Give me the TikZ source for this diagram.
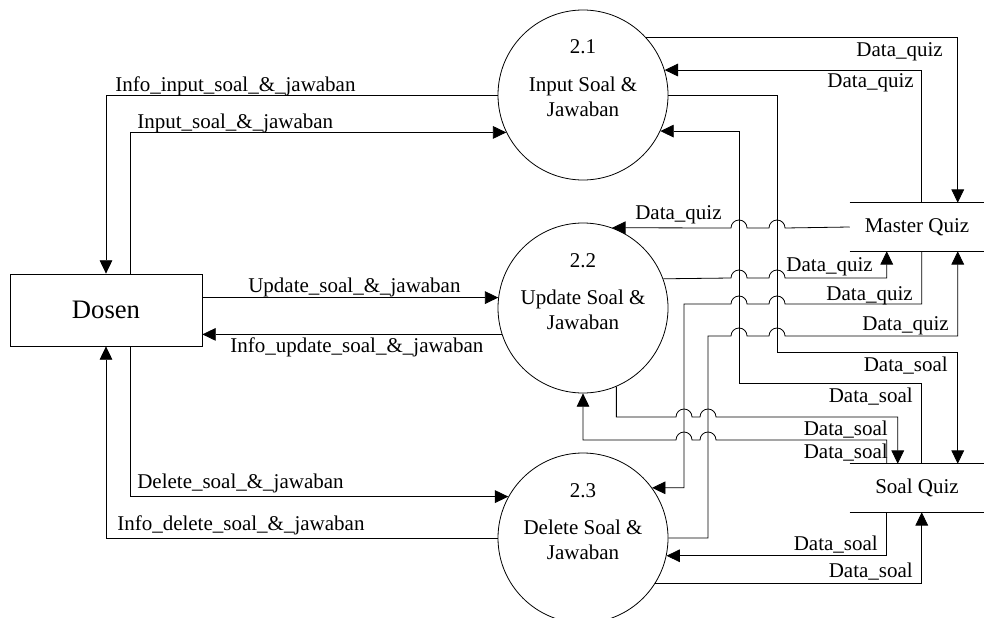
\documentclass[tikz,border=0pt]{standalone}
\usepackage{fontspec}
\setmainfont{Liberation Serif}
\usetikzlibrary{arrows.meta}
\newcommand{\lblfont}{\fontsize{15.75pt}{18.75pt}\selectfont}
\begin{document}
\begin{tikzpicture}[x=0.75pt,y=0.75pt,
  wire/.style={draw=black, line width=0.6pt},
  flow/.style={wire, -{Triangle[length=10pt,width=9.5pt]}},
  proc/.style={circle, draw=black, line width=0.6pt, minimum size=127.5pt, inner sep=0pt},
  ent/.style={rectangle, draw=black, line width=0.6pt, minimum width=144pt, minimum height=54pt, font=\fontsize{20pt}{24pt}\selectfont},
  store/.style={rectangle, minimum width=100.5pt, minimum height=36pt, inner sep=0pt, font=\lblfont},
  lbl/.style={inner sep=0pt, font=\lblfont},
]
\useasboundingbox (0,0) rectangle (984,-617);
\clip (0,0) rectangle (984,-617);

% external entity, processes and data stores
\node[ent] (dosen) at (106,-310) {Dosen};
\node[proc] (c21) at (583,-95) {};
\node[proc] (c22) at (583,-308) {};
\node[proc] (c23) at (583,-538) {};
\node[store] (mq) at (917,-227) {Master Quiz};
\node[store] (sq) at (917,-488) {Soal Quiz};
\draw[wire] (mq.north west) -- (mq.north east) (mq.south west) -- (mq.south east);
\draw[wire] (sq.north west) -- (sq.north east) (sq.south west) -- (sq.south east);

% process captions
\node[lbl, anchor=base] (n21) at ([yshift=30.75pt]c21.center) {2.1};
\node[lbl, anchor=base] (t21a) at ([yshift=3pt]c21.center) {Input Soal \&};
\node[lbl, anchor=base] (t21b) at ([yshift=-15.75pt]c21.center) {Jawaban};
\node[lbl, anchor=base] (n22) at ([yshift=30.75pt]c22.center) {2.2};
\node[lbl, anchor=base] (t22a) at ([yshift=3pt]c22.center) {Update Soal \&};
\node[lbl, anchor=base] (t22b) at ([yshift=-15.75pt]c22.center) {Jawaban};
\node[lbl, anchor=base] (n23) at ([yshift=30.75pt]c23.center) {2.3};
\node[lbl, anchor=base] (t23a) at ([yshift=3pt]c23.center) {Delete Soal \&};
\node[lbl, anchor=base] (t23b) at ([yshift=-15.75pt]c23.center) {Jawaban};

% flows between Dosen and the processes
\draw[flow] (c21.west) -| (dosen.north);
\draw[flow] ([xshift=18pt]dosen.north) |- (c21.206.6);
\draw[flow] (dosen.east |- c22.173.9) -- (c22.173.9);
\draw[flow] (c22.198.5) -- (dosen.east |- c22.198.5);
\draw[flow] ([xshift=18pt]dosen.south) |- (c23.151.2);
\draw[flow] (c23.west) -| (dosen.south);

\node[lbl, anchor=base west] (l1) at (115,-91) {Info\_input\_soal\_\&\_jawaban};
\node[lbl, anchor=base west] (l2) at (137,-128) {Input\_soal\_\&\_jawaban};
\node[lbl, anchor=base west] (l3) at (248,-292) {Update\_soal\_\&\_jawaban};
\node[lbl, anchor=base west] (l4) at (230,-352) {Info\_update\_soal\_\&\_jawaban};
\node[lbl, anchor=base west] (l5) at (137,-488) {Delete\_soal\_\&\_jawaban};
\node[lbl, anchor=base west] (l6) at (117,-530) {Info\_delete\_soal\_\&\_jawaban};

% flows between the processes and Master Quiz
\draw[flow] (c21.42.1) -| ([xshift=81pt]mq.north west);
\draw[flow] ([xshift=54pt]mq.north west) |- (c21.17.1);
\draw[flow] (mq.west) -- (785,-228) arc[start angle=0,end angle=180,radius=6pt]
  -- (747,-228) arc[start angle=0,end angle=180,radius=6pt] -- (c22.70.3);
\draw[flow] (c22.20.7) -- (731,-278) arc[start angle=180,end angle=0,radius=6pt]
  -- (769,-278) arc[start angle=180,end angle=0,radius=6pt] -| ([xshift=27.75pt]mq.south west);
\draw[flow] ([xshift=54pt]mq.south west) |- (785,-304) arc[start angle=0,end angle=180,radius=6pt]
  -- (747,-304) arc[start angle=0,end angle=180,radius=6pt] -- (684,-304) |- (c23.36.9);
\draw[flow] (c23.east) -| (708,-336) -- (731,-336) arc[start angle=180,end angle=0,radius=6pt]
  -- (769,-336) arc[start angle=180,end angle=0,radius=6pt] -| ([xshift=81pt]mq.south west);

\node[lbl, anchor=base east] (l7) at (943,-56) {Data\_quiz};
\node[lbl, anchor=base east] (l8) at (914,-88) {Data\_quiz};
\node[lbl, anchor=base west] (l9) at (635,-219) {Data\_quiz};
\node[lbl, anchor=base east] (l10) at (873,-271) {Data\_quiz};
\node[lbl, anchor=base east] (l11) at (913,-300) {Data\_quiz};
\node[lbl, anchor=base east] (l12) at (949,-330) {Data\_quiz};

% flows between the processes and Soal Quiz
\draw[flow] (c21.east) -| (777,-352) -| ([xshift=81pt]sq.north west);
\draw[flow] ([xshift=54pt]sq.north west) |- (739,-383) |- (c21.-25.8);
\draw[flow] (c22.-67.2) |- (676,-417) arc[start angle=180,end angle=0,radius=6pt]
  -- (700,-417) arc[start angle=180,end angle=0,radius=6pt] -| ([xshift=36pt]sq.north west);
\draw[flow] ([xshift=27.75pt]sq.north west) |- (716,-440) arc[start angle=0,end angle=180,radius=6pt]
  -- (692,-440) arc[start angle=0,end angle=180,radius=6pt] -| (c22.south);
\draw[flow] ([xshift=27.75pt]sq.south west) |- (c23.-12.2);
\draw[flow] (c23.-32) -| ([xshift=54pt]sq.south west);

\node[lbl, anchor=base east] (l13) at (948,-371) {Data\_soal};
\node[lbl, anchor=base east] (l14) at (913,-402) {Data\_soal};
\node[lbl, anchor=base east] (l15) at (888,-435) {Data\_soal};
\node[lbl, anchor=base east] (l16) at (888,-458) {Data\_soal};
\node[lbl, anchor=base east] (l17) at (878,-550) {Data\_soal};
\node[lbl, anchor=base east] (l18) at (913,-577) {Data\_soal};
\end{tikzpicture}
\end{document}
